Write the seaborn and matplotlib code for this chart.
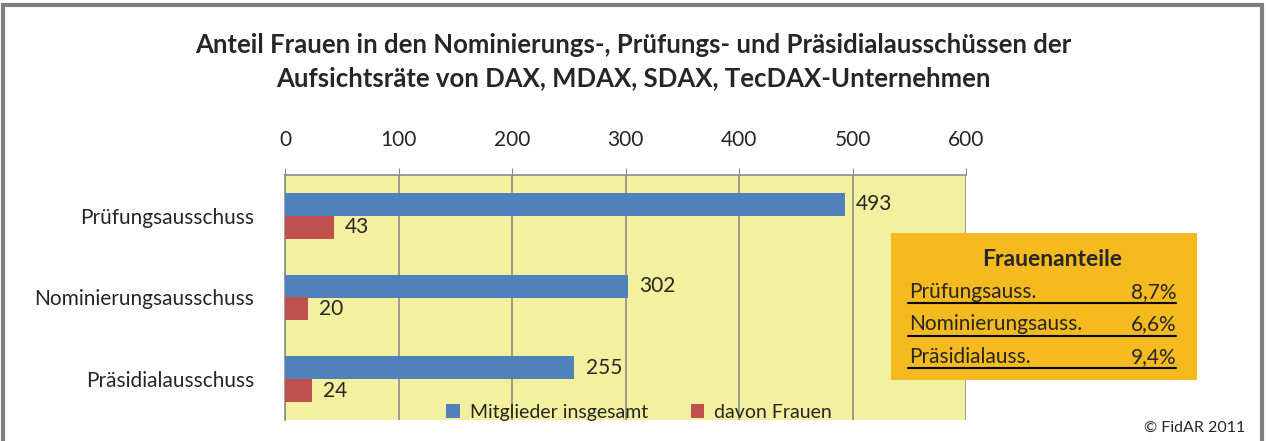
import matplotlib
matplotlib.use('Agg')
import matplotlib.pyplot as plt
import pandas as pd
import seaborn as sns
from matplotlib.lines import Line2D
from matplotlib.patches import Rectangle

# Daten
ausschuesse = ['Prüfungsausschuss', 'Nominierungsausschuss', 'Präsidialausschuss']
mitglieder = [493, 302, 255]
frauen = [43, 20, 24]
gruppen = ['Mitglieder insgesamt', 'davon Frauen']
anteil_namen = ['Prüfungsauss.', 'Nominierungsauss.', 'Präsidialauss.']
anteil_werte = ['8,7%', '6,6%', '9,4%']
x_ticks = [0, 100, 200, 300, 400, 500, 600]

blau = '#4F81BD'
rot = '#C0504D'
gelb = '#F3F09F'
orange = '#F5BA1F'
grau = '#8C8C8C'

df = pd.DataFrame({
    'Ausschuss': ausschuesse * 2,
    'Anzahl': mitglieder + frauen,
    'Gruppe': [gruppen[0]] * 3 + [gruppen[1]] * 3,
})

sns.set_style('white')
plt.rcParams['font.family'] = ['Lato', 'DejaVu Sans']

fig = plt.figure(figsize=(12.66, 4.41), dpi=100)
ax = fig.add_axes([285 / 1266, 1 - 420 / 441, 681 / 1266, 245 / 441])
ax.set_facecolor(gelb)

sns.barplot(data=df, y='Ausschuss', x='Anzahl', hue='Gruppe', order=ausschuesse,
            hue_order=gruppen, palette=[blau, rot], width=0.56, orient='h',
            saturation=1, linewidth=0, errorbar=None, ax=ax, zorder=3)

for cont in ax.containers:
    ax.bar_label(cont, fmt='%d', padding=8, fontsize=15)

ax.set_xlim(0, 600)
ax.set_ylim(2.5, -0.5)
ax.set_xticks(x_ticks)
ax.xaxis.tick_top()
ax.tick_params(axis='x', labelsize=15, length=5, color=grau, pad=13, direction='out')
ax.tick_params(axis='y', labelsize=15, length=0, pad=22)
ax.set_yticks([-0.5, 0.5, 1.5, 2.5], minor=True)
ax.tick_params(axis='y', which='minor', length=6, color=grau, direction='out')
ax.grid(axis='x', color=grau, linewidth=1.2, zorder=0)
ax.set_axisbelow(True)
ax.set_xlabel('')
ax.set_ylabel('')
for s in ['left', 'top']:
    ax.spines[s].set_color(grau)
    ax.spines[s].set_linewidth(1.2)
ax.spines['right'].set_visible(False)
ax.spines['bottom'].set_visible(False)

ax.legend(loc='lower center', bbox_to_anchor=(0.52, -0.075), ncol=2, frameon=False,
          fontsize=14, handlelength=0.7, handleheight=0.7, handletextpad=0.5,
          columnspacing=2.2)

fig.suptitle('Anteil Frauen in den Nominierungs-, Prüfungs- und Präsidialausschüssen der\n'
             'Aufsichtsräte von DAX, MDAX, SDAX, TecDAX-Unternehmen',
             x=0.5, y=1 - 33 / 441, fontsize=18.5, fontweight='bold', linespacing=1.45, va='top')

# Kasten Frauenanteile
W, H = 1266, 441
fig.add_artist(Rectangle((891 / W, 1 - 380 / H), 306 / W, 147 / H,
                         transform=fig.transFigure, facecolor=orange, edgecolor='none', zorder=5))
fig.text(1052 / W, 1 - 259 / H, 'Frauenanteile', ha='center', va='center',
         fontsize=16.5, fontweight='bold', zorder=6)
for i, (name, wert) in enumerate(zip(anteil_namen, anteil_werte)):
    yy = 1 - (292 + i * 32.5) / H
    fig.text(909 / W, yy, name, ha='left', va='center', fontsize=15, zorder=6)
    fig.text(1176 / W, yy, wert, ha='right', va='center', fontsize=15, zorder=6)
    yl = 1 - (303 + i * 32.5) / H
    fig.add_artist(Line2D([908 / W, 1176 / W], [yl, yl], transform=fig.transFigure,
                          color='black', linewidth=1.5, zorder=6))

fig.text(1245 / W, 1 - 428 / H, '© FidAR 2011', ha='right', va='center', fontsize=11.5)

# Rahmen
fig.add_artist(Rectangle((3 / W, -0.05), 1259 / W, 1.05 - 5 / H, transform=fig.transFigure,
                         facecolor='none', edgecolor='#7F7F7F', linewidth=3))

fig.savefig('out.png', dpi=100)
